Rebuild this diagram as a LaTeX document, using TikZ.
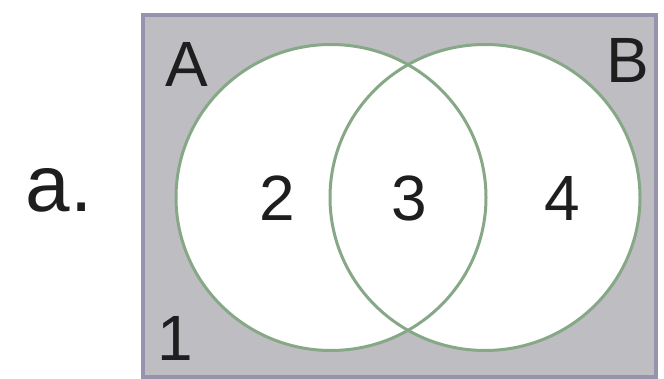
\documentclass[tikz,border=0pt]{standalone}
\usepackage{fontspec}
\setmainfont{Liberation Sans}
\definecolor{boxfill}{RGB}{190,190,194}
\definecolor{boxline}{RGB}{150,148,172}
\definecolor{setline}{RGB}{135,168,135}
\definecolor{txt}{RGB}{30,30,30}
\tikzset{
  lbl/.style={inner sep=0pt, text=txt, font=\fontsize{64}{64}\selectfont},
  setfill/.style={fill=white, draw=none},
  setedge/.style={draw=setline, line width=3pt},
}
\begin{document}
\begin{tikzpicture}[x=1pt,y=-1pt]
\useasboundingbox (0,0) rectangle (664,379);
\fill[white] (0,0) rectangle (664,379);
\node[draw=boxline, fill=boxfill, line width=4pt, minimum width=513pt, minimum height=362pt, inner sep=0pt] (univ) at (399.5,196) {};
\fill[setfill] (331,197.5) ellipse [x radius=155, y radius=153];
\fill[setfill] (485,197.5) ellipse [x radius=155, y radius=153];
\draw[setedge] (331,197.5) ellipse [x radius=155, y radius=153];
\draw[setedge] (485,197.5) ellipse [x radius=155, y radius=153];
\node[lbl] (la) at (187,64) {A};
\node[lbl] (lb) at (628,60) {B};
\node[lbl] (l1) at (175,338) {1};
\node[lbl] (l2) at (277,198) {2};
\node[lbl] (l3) at (409,198) {3};
\node[lbl] (l4) at (562,198) {4};
\node[inner sep=0pt, text=txt, font=\fontsize{80}{80}\selectfont] (title) at (59,190) {a.};
\end{tikzpicture}
\end{document}
